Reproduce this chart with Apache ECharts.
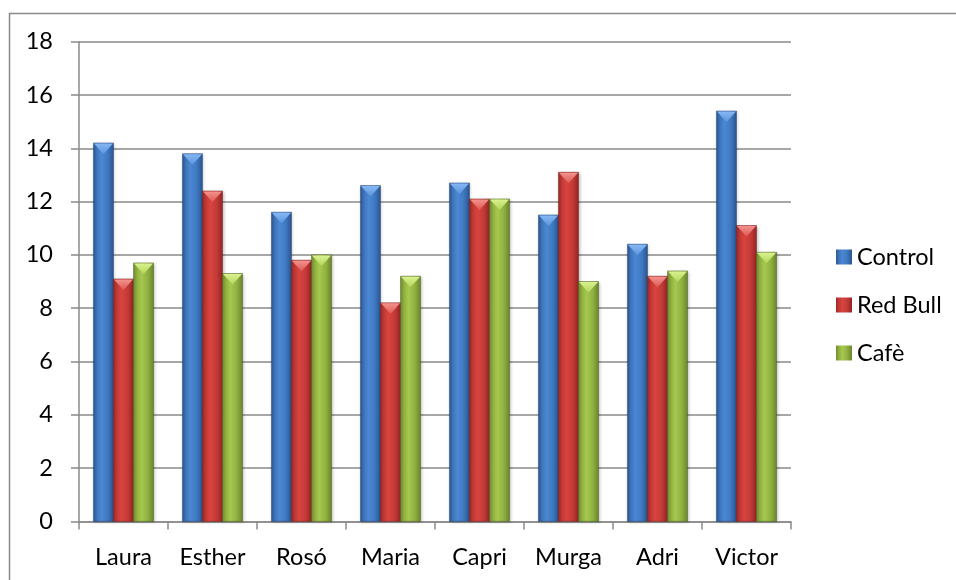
<!DOCTYPE html>
<html>
<head>
<meta charset="utf-8">
<script src="https://cdn.jsdelivr.net/npm/echarts@6/dist/echarts.min.js"></script>
<style>
  html, body { margin: 0; padding: 0; background: #ffffff; }
  #chart { width: 956px; height: 580px; }
</style>
</head>
<body>
<div id="chart"></div>
<script>
// Subjects and measured values per drink
const categories = ['Laura', 'Esther', 'Rosó', 'Maria', 'Capri', 'Murga', 'Adri', 'Victor'];
const control = [14.2, 13.8, 11.6, 12.6, 12.7, 11.5, 10.4, 15.4];
const redBull = [9.1, 12.4, 9.8, 8.2, 12.1, 13.1, 9.2, 11.1];
const cafe = [9.7, 9.3, 10.0, 9.2, 12.1, 9.0, 9.4, 10.1];
const seriesNames = ['Control', 'Red Bull', 'Cafè'];
const yMin = 0, yMax = 18, yStep = 2;

const FONT = 'Lato';
const FONT_SIZE = 23.5;

// Cylinder-like shading for each bar colour: side gradient + lighter bevelled top
const shades = [
  { side: ['#2b5791', '#3e74ba', '#4b88d3', '#3f79c2', '#2a548d'], top: ['#86b8f4', '#5d94dc'], edge: 'rgba(30,60,110,0.55)' },
  { side: ['#9c2826', '#c23936', '#d9443f', '#c43a37', '#922423'], top: ['#f4928d', '#dc5a55'], edge: 'rgba(110,25,25,0.55)' },
  { side: ['#6f8c2e', '#8fb03f', '#a6c84f', '#91b141', '#68852b'], top: ['#daf28f', '#b3d45b'], edge: 'rgba(70,90,25,0.55)' }
];

function sideGradient(s) {
  return new echarts.graphic.LinearGradient(0, 0, 1, 0, [
    { offset: 0, color: s.side[0] },
    { offset: 0.18, color: s.side[1] },
    { offset: 0.4, color: s.side[2] },
    { offset: 0.7, color: s.side[3] },
    { offset: 1, color: s.side[4] }
  ]);
}

function topGradient(s) {
  return new echarts.graphic.LinearGradient(0, 0, 0, 1, [
    { offset: 0, color: s.top[0] },
    { offset: 1, color: s.top[1] }
  ]);
}

// Each series occupies one slot of a three-bar cluster centred on its category
function barRenderer(slot, shade) {
  return function (params, api) {
    const catW = api.size([1, 0])[0];
    const barW = catW * 0.225;
    const base = api.coord([api.value(0), 0]);
    const top = api.coord([api.value(0), api.value(1)]);
    const x = base[0] - 1.5 * barW + slot * barW;
    const h = base[1] - top[1];
    const bevel = Math.min(barW * 0.55, h);
    return {
      type: 'group',
      children: [
        {
          type: 'rect',
          shape: { x: x, y: top[1], width: barW, height: h },
          style: {
            fill: sideGradient(shade),
            stroke: shade.edge,
            lineWidth: 0.8,
            shadowBlur: 3,
            shadowColor: 'rgba(0,0,0,0.25)',
            shadowOffsetX: 1,
            shadowOffsetY: 1
          }
        },
        {
          type: 'polygon',
          shape: {
            points: [
              [x + 0.5, top[1] + 0.5],
              [x + barW - 0.5, top[1] + 0.5],
              [x + barW / 2, top[1] + bevel]
            ]
          },
          style: { fill: topGradient(shade) }
        }
      ]
    };
  };
}

const seriesData = [control, redBull, cafe];

const chart = echarts.init(document.getElementById('chart'));
chart.setOption({
  backgroundColor: '#ffffff',
  animation: false,
  graphic: [
    {
      type: 'rect',
      shape: { x: 9.5, y: 13.5, width: 1000, height: 700 },
      style: { fill: 'none', stroke: '#8a8a8a', lineWidth: 1.5 },
      silent: true,
      z: -10
    }
  ],
  grid: { left: 79, right: 165, top: 41.7, bottom: 58.6, containLabel: false },
  legend: {
    orient: 'vertical',
    left: 831,
    top: 240,
    itemWidth: 16,
    itemHeight: 15,
    itemGap: 24,
    icon: 'rect',
    textStyle: { fontFamily: FONT, fontSize: FONT_SIZE, color: '#000', lineHeight: 24, padding: [0, 0, 0, 0] },
    data: seriesNames
  },
  xAxis: {
    type: 'category',
    data: categories,
    boundaryGap: true,
    axisLine: { show: true, lineStyle: { color: '#8a8a8a', width: 1.5 } },
    axisTick: { show: true, alignWithLabel: false, length: 8, lineStyle: { color: '#8a8a8a', width: 1.5 } },
    axisLabel: { fontFamily: FONT, fontSize: FONT_SIZE, color: '#000', margin: 24 },
    splitLine: { show: false }
  },
  yAxis: {
    type: 'value',
    min: yMin,
    max: yMax,
    interval: yStep,
    axisLine: { show: true, lineStyle: { color: '#8a8a8a', width: 1.5 } },
    axisTick: { show: true, length: 8, lineStyle: { color: '#8a8a8a', width: 1.5 } },
    axisLabel: { fontFamily: FONT, fontSize: FONT_SIZE, color: '#000', margin: 26 },
    splitLine: { show: true, lineStyle: { color: '#8a8a8a', width: 1.5 } }
  },
  series: seriesData.map(function (vals, i) {
    return {
      type: 'custom',
      name: seriesNames[i],
      renderItem: barRenderer(i, shades[i]),
      encode: { x: 0, y: 1 },
      itemStyle: { color: sideGradient(shades[i]) },
      data: vals.map(function (v, j) { return [j, v]; }),
      z: 3
    };
  })
});
</script>
</body>
</html>
